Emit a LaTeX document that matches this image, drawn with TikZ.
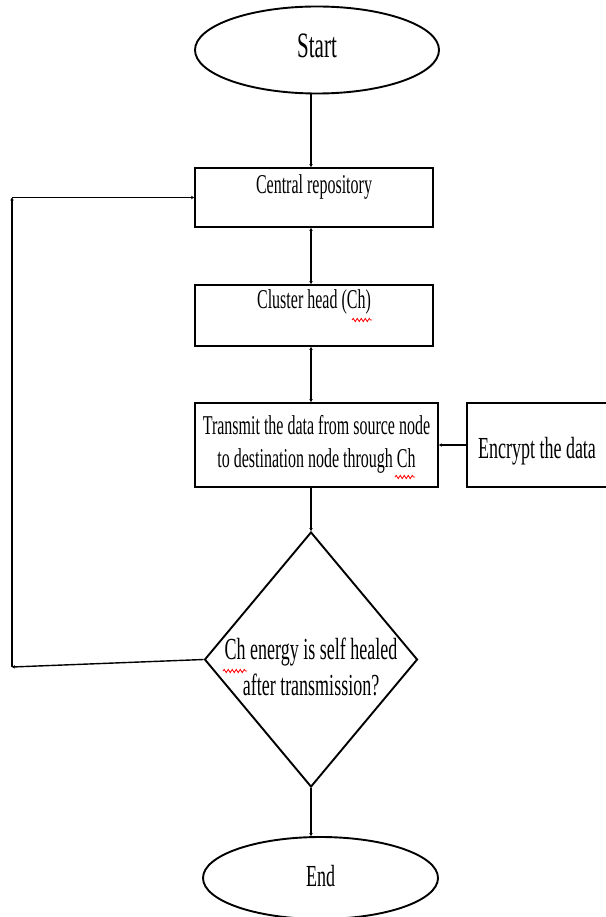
\documentclass[tikz,border=0pt]{standalone}
\usepackage{fontspec}
\setmainfont{Liberation Serif}
\usepackage{graphicx}
\usetikzlibrary{arrows.meta,shapes.geometric,decorations.pathmorphing}
% tall narrow text as in the scan
\newcommand{\tall}[2][0pt]{\smash{\raisebox{#1}{\makebox[0pt]{\scalebox{1}[1.7]{\begin{tabular}{@{}c@{}}#2\end{tabular}}}}}}

\begin{document}
\begin{tikzpicture}[->,>={Stealth[length=3pt,width=3.5pt]}
  ,x=1pt,y=-1pt
  ,line width=1.4pt]
  \tikzstyle{every node}=[draw,line width=1.9pt,inner sep=0pt]
  \tikzstyle{term}=[ellipse]
  \tikzstyle{proc}=[rectangle,font=\fontsize{16}{19}\selectfont]
  \tikzstyle{decide}=[diamond,font=\fontsize{18}{21}\selectfont]
  \tikzstyle{spell}=[-,red,line width=0.8pt,decorate,decoration={snake,segment length=4pt,amplitude=1.6pt}]

  \useasboundingbox (0,0) rectangle (605,917);

  \node[term,font=\fontsize{21}{25}\selectfont,minimum width=244pt,minimum height=87pt] (start) at (317,50) {\tall[-8pt]{Start}};
  \node[proc,minimum width=238pt,minimum height=59pt] (repo) at (314,197.5) {\tall[3pt]{Central repository}};
  \node[proc,minimum width=238pt,minimum height=61pt] (ch) at (314,315.5) {\tall[6pt]{Cluster head (Ch)}};
  \node[proc,minimum width=243pt,minimum height=84pt] (send) at (316.5,445) {\tall[-7pt]{Transmit the data from source node\\to destination node through Ch}};
  \node[proc,font=\fontsize{18}{21}\selectfont,minimum width=140pt,minimum height=84pt] (enc) at (537,445) {\tall[-14pt]{Encrypt the data}};
  \node[decide,minimum width=213pt,minimum height=255pt] (heal) at (311,659.5) {\tall[-18pt]{Ch energy is self healed\\after transmission?}};
  \node[term,font=\fontsize{18}{21}\selectfont,minimum width=235pt,minimum height=82pt] (end) at (320.5,878) {\tall[-9pt]{End}};

  \coordinate (loopb) at (12,667);
  \coordinate (loopt) at (12,197.5);

  \path
  (start.south -| heal.north) edge (repo.north -| heal.north)
  (repo.south -| heal.north)  edge [<->] (ch.north -| heal.north)
  (ch.south -| heal.north)    edge [<->] (send.north -| heal.north)
  (send.south -| heal.north)  edge (heal.north)
  (enc.west)                  edge (send.east)
  (heal.south)                edge (end.north -| heal.south)
  ;
  % no-heal loop back to the repository
  \path
  (heal.west)  edge (loopb)
  (loopb)      edge (loopt)
  (loopt)      edge (repo.west)
  ;
  % spell-check marks under Ch
  \draw[spell] ([xshift=38pt,yshift=-4.5pt]ch.center) -- ++(20,0);
  \draw[spell] ([xshift=78.5pt,yshift=-32pt]send.center) -- ++(20,0);
  \draw[spell] ([xshift=-88pt,yshift=-11.5pt]heal.center) -- ++(24,0);

\end{tikzpicture}
\end{document}
